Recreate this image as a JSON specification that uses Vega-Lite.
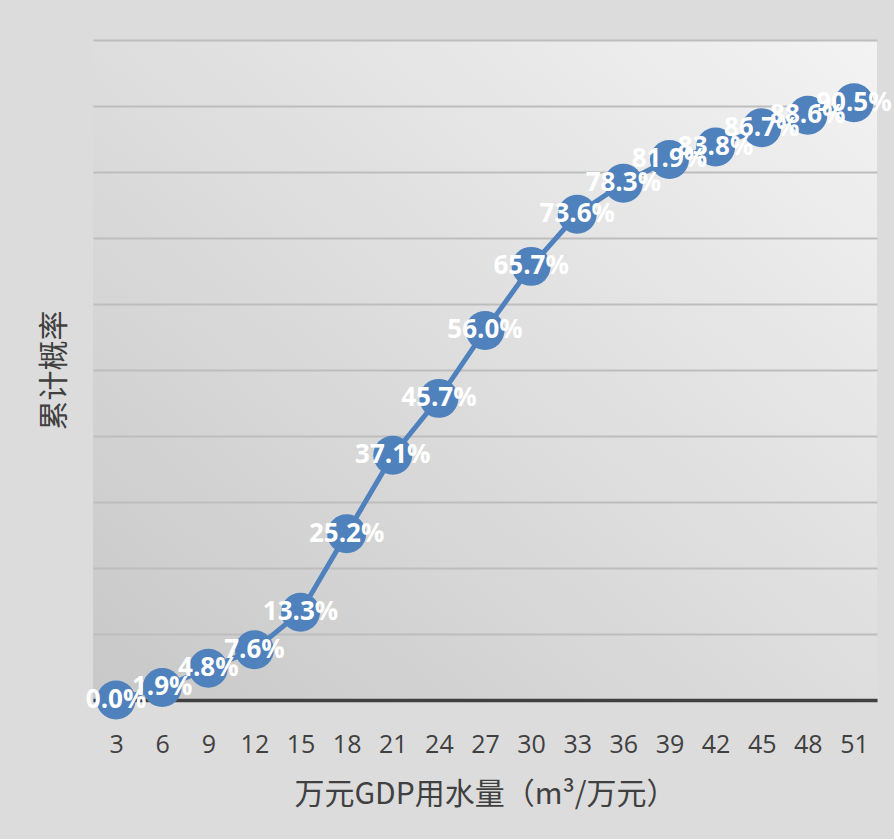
{
  "$schema": "https://vega.github.io/schema/vega-lite/v6.json",
  "width": 784,
  "height": 660,
  "autosize": {"type": "none"},
  "padding": {"left": 93, "top": 40, "right": 17, "bottom": 139},
  "background": "#dcdcdc",
  "config": {
    "view": {
      "stroke": null,
      "fill": {"gradient": "linear", "x1": 0, "y1": 1, "x2": 1, "y2": 0, "stops": [{"offset": 0, "color": "#c8c8c8"}, {"offset": 1, "color": "#f3f3f3"}]}
    },
    "font": "Open Sans"
  },
  "data": {
    "values": [
      {"w": 3, "p": 0.0},
      {"w": 6, "p": 0.019},
      {"w": 9, "p": 0.048},
      {"w": 12, "p": 0.076},
      {"w": 15, "p": 0.133},
      {"w": 18, "p": 0.252},
      {"w": 21, "p": 0.371},
      {"w": 24, "p": 0.457},
      {"w": 27, "p": 0.56},
      {"w": 30, "p": 0.657},
      {"w": 33, "p": 0.736},
      {"w": 36, "p": 0.783},
      {"w": 39, "p": 0.819},
      {"w": 42, "p": 0.838},
      {"w": 45, "p": 0.867},
      {"w": 48, "p": 0.886},
      {"w": 51, "p": 0.905}
    ]
  },
  "encoding": {
    "x": {
      "field": "w",
      "type": "ordinal",
      "sort": null,
      "axis": {
        "labelAngle": 0,
        "grid": false,
        "ticks": false,
        "tickSize": 0,
        "domain": true,
        "domainColor": "#404040",
        "domainWidth": 3.5,
        "labelPadding": 32,
        "labelFontSize": 25,
        "labelColor": "#404040",
        "labelFont": "Open Sans",
        "title": "万元GDP用水量（m³/万元）",
        "titleFont": "Noto Sans CJK SC",
        "titleFontSize": 30,
        "titleFontWeight": "normal",
        "titleColor": "#404040",
        "titlePadding": 22
      }
    },
    "y": {
      "field": "p",
      "type": "quantitative",
      "scale": {"domain": [0, 1], "nice": false},
      "axis": {
        "labels": false,
        "ticks": false,
        "tickSize": 0,
        "domain": false,
        "grid": true,
        "gridColor": "#bdbdbd",
        "gridWidth": 2,
        "values": [0, 0.1, 0.2, 0.3, 0.4, 0.5, 0.6, 0.7, 0.8, 0.9, 1.0],
        "title": "累计概率",
        "titleFont": "Noto Sans CJK SC",
        "titleFontSize": 30,
        "titleFontWeight": "normal",
        "titleColor": "#404040",
        "titlePadding": 24
      }
    }
  },
  "layer": [
    {"mark": {"type": "line", "color": "#4f81bd", "strokeWidth": 5}},
    {"mark": {"type": "point", "filled": true, "color": "#4f81bd", "opacity": 1, "size": 1520}},
    {
      "mark": {"type": "text", "color": "#ffffff", "fontWeight": "bold", "fontSize": 26, "font": "Open Sans", "align": "center", "baseline": "middle"},
      "encoding": {"text": {"field": "p", "type": "quantitative", "format": ".1%"}}
    }
  ]
}
